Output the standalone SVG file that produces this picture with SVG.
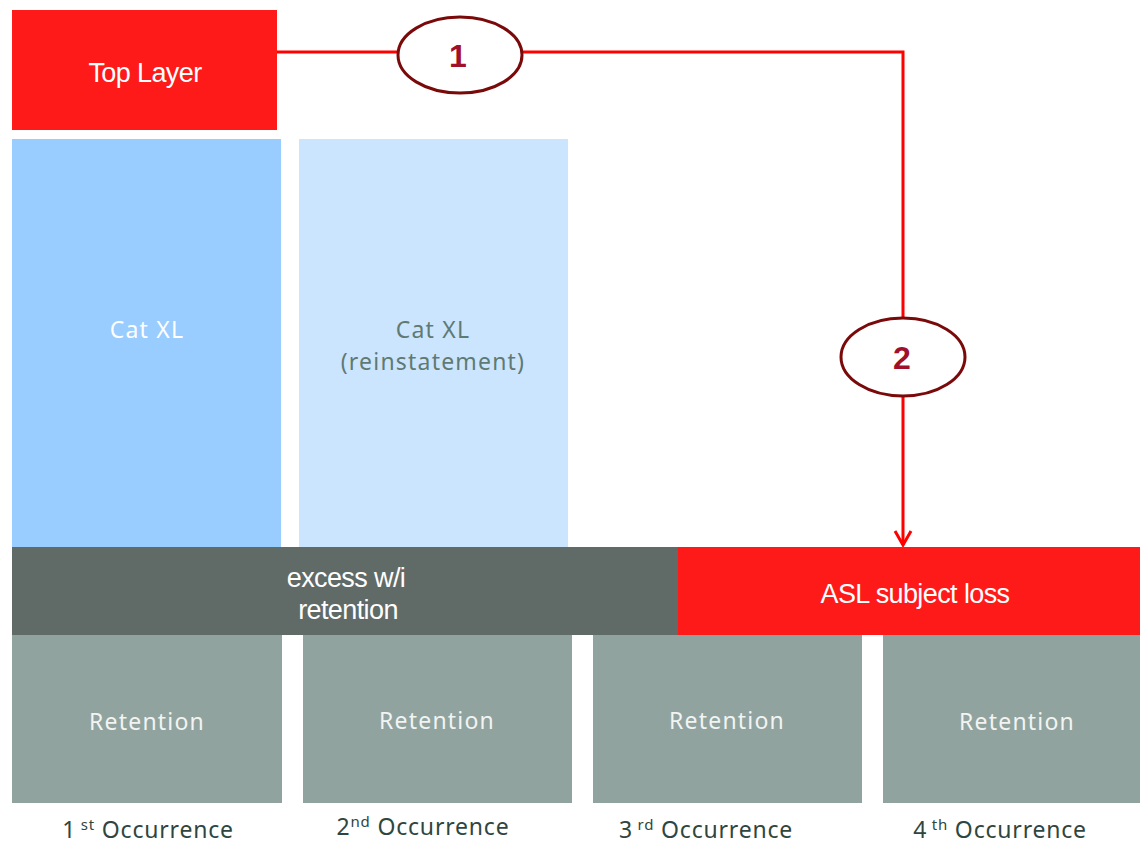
<svg xmlns="http://www.w3.org/2000/svg" width="1140" height="843" viewBox="0 0 1140 843">
  <style>
    .red { fill: #FF1A1A; }
    .cat { fill: #99CCFF; }
    .cat2 { fill: #CCE5FF; }
    .xs { fill: #606B68; }
    .ret { fill: #91A39E; }
    .lbl { font-family: "Liberation Sans", Arial, sans-serif; font-size: 27px; fill: #FFFFFF; text-anchor: middle; letter-spacing: -0.6px; }
    .soft { font-family: "Noto Sans", "Open Sans", sans-serif; font-size: 23px; text-anchor: middle; letter-spacing: 1.2px; }
    .occ { font-family: "Noto Sans", "Open Sans", sans-serif; font-size: 23px; fill: #2F4640; text-anchor: middle; letter-spacing: 0.8px; }
    .sup { font-size: 15px; }
    .badge { fill: #FFFFFF; stroke: #7A0A0A; stroke-width: 3; }
    .num { font-family: "Liberation Sans", Arial, sans-serif; font-size: 32px; font-weight: bold; fill: #A0102A; text-anchor: middle; }
    .wire { fill: none; stroke: #FF0000; stroke-width: 3; }
  </style>
  <defs>
    <marker id="arrow" viewBox="0 0 20 20" refX="18" refY="10" markerWidth="20" markerHeight="20" markerUnits="userSpaceOnUse" orient="auto">
      <path d="M4,2 L18,10 L4,18" fill="none" stroke="#FF0000" stroke-width="3"/>
    </marker>
  </defs>

  <rect width="1140" height="843" fill="#FFFFFF"/>

  <!-- connectors -->
  <g id="connectors">
    <path class="wire" d="M277,52 H903 V545" marker-end="url(#arrow)"/>
  </g>

  <g id="top-layer">
    <rect class="red" x="12" y="10" width="265" height="120"/>
    <text class="lbl" x="145" y="82">Top Layer</text>
  </g>

  <g id="cat-xl">
    <rect class="cat" x="12" y="139" width="269" height="408"/>
    <text class="soft" x="147" y="338" fill="#FFFFFF">Cat XL</text>
  </g>

  <g id="cat-xl-reinstatement">
    <rect class="cat2" x="299" y="139" width="269" height="408"/>
    <text class="soft" x="433" y="338" fill="#5F7A72">Cat XL</text>
    <text class="soft" x="433" y="370" fill="#5F7A72">(reinstatement)</text>
  </g>

  <g id="excess">
    <rect class="xs" x="12" y="547" width="666" height="88"/>
    <text class="lbl" x="346" y="587">excess w/i</text>
    <text class="lbl" x="348" y="619">retention</text>
  </g>

  <g id="asl-loss">
    <rect class="red" x="678" y="547" width="462" height="88"/>
    <text class="lbl" x="915" y="603">ASL subject loss</text>
  </g>

  <g id="retention-1">
    <rect class="ret" x="12" y="635" width="270" height="168"/>
    <text class="soft" x="147" y="730" fill="#F2F4F3">Retention</text>
  </g>
  <g id="retention-2">
    <rect class="ret" x="303" y="635" width="269" height="168"/>
    <text class="soft" x="437" y="729" fill="#F2F4F3">Retention</text>
  </g>
  <g id="retention-3">
    <rect class="ret" x="593" y="635" width="269" height="168"/>
    <text class="soft" x="727" y="729" fill="#F2F4F3">Retention</text>
  </g>
  <g id="retention-4">
    <rect class="ret" x="883" y="635" width="269" height="168"/>
    <text class="soft" x="1017" y="730" fill="#F2F4F3">Retention</text>
  </g>

  <g id="occurrence-labels">
    <text class="occ" x="148" y="838">1<tspan class="sup" dy="-8"> st</tspan><tspan dy="8"> Occurrence</tspan></text>
    <text class="occ" x="423" y="835">2<tspan class="sup" dy="-8">nd</tspan><tspan dy="8"> Occurrence</tspan></text>
    <text class="occ" x="706" y="838">3<tspan class="sup" dy="-8"> rd</tspan><tspan dy="8"> Occurrence</tspan></text>
    <text class="occ" x="1000" y="838">4<tspan class="sup" dy="-8"> th</tspan><tspan dy="8"> Occurrence</tspan></text>
  </g>

  <g id="badge-1">
    <ellipse class="badge" cx="460" cy="55" rx="62" ry="38"/>
    <text class="num" x="458" y="67">1</text>
  </g>

  <g id="badge-2">
    <ellipse class="badge" cx="903" cy="357" rx="62" ry="39"/>
    <text class="num" x="902" y="369">2</text>
  </g>
</svg>
